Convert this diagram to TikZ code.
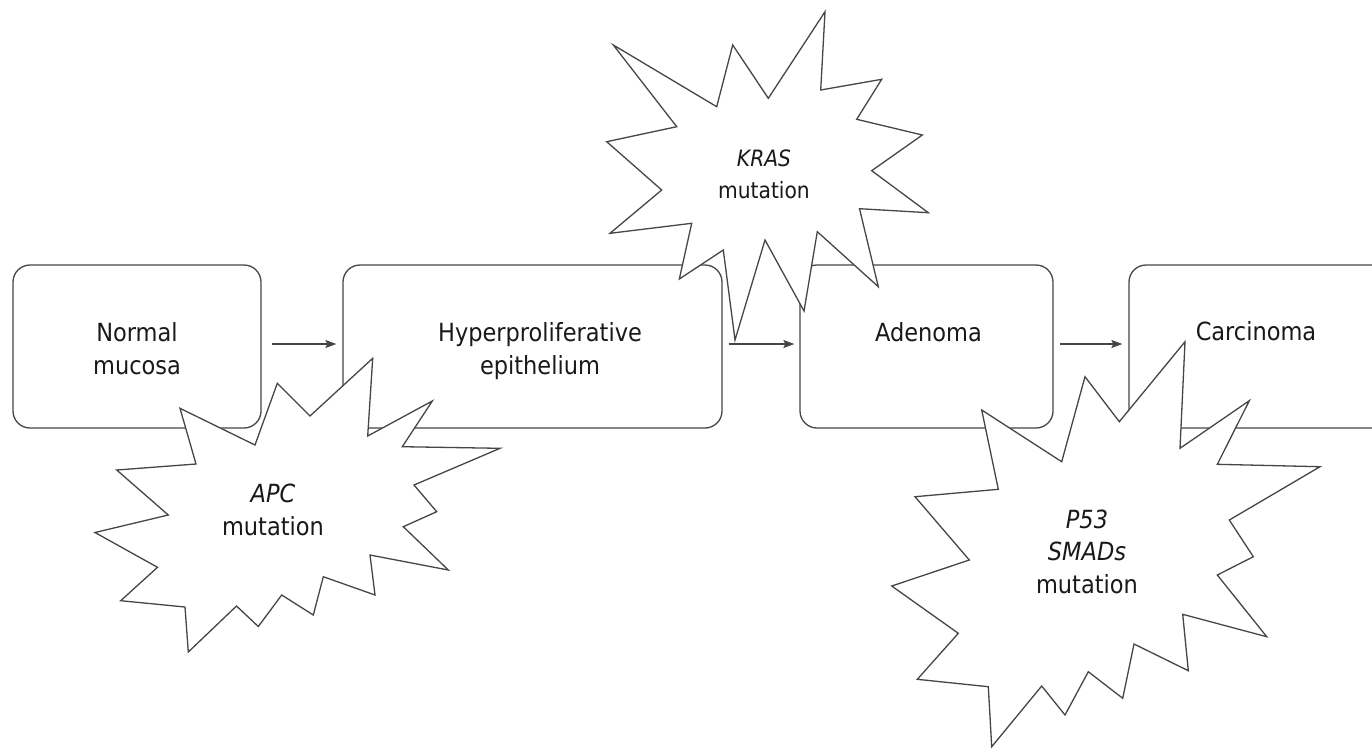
\documentclass[tikz,border=0pt]{standalone}
\usepackage{fontspec}
\setmainfont{DejaVu Sans Condensed}
\usetikzlibrary{arrows.meta}
\definecolor{linec}{RGB}{70,70,70}
\tikzset{
  stagebox/.style={draw=linec, line width=1.3pt, rounded corners=17pt, fill=white, inner sep=0pt},
  flow/.style={draw=linec, line width=1.2pt, -{Stealth[length=11pt,width=8pt,inset=2pt]}},
  burst/.style={draw=linec, line width=1.3pt, fill=white, line join=miter},
  lbl/.style={font=\fontsize{25}{33}\selectfont, align=center, anchor=base, inner sep=0pt, text=black!90},
  klbl/.style={font=\fontsize{22.5}{31.5}\selectfont, align=center, anchor=base, inner sep=0pt, text=black!90}
}
\begin{document}
\begin{tikzpicture}[x=1pt,y=-1pt]
\useasboundingbox (0,0) rectangle (1372,748);
\clip (0,0) rectangle (1372,748);
\fill[white] (0,0) rectangle (1372,748);
% stage boxes
\node[stagebox, minimum width=248pt, minimum height=163pt] (nm) at (137,346.5) {};
\node[stagebox, minimum width=379pt, minimum height=163pt] (hy) at (532.5,346.5) {};
\node[stagebox, minimum width=253pt, minimum height=163pt] (ad) at (926.5,346.5) {};
\node[stagebox, minimum width=291pt, minimum height=163pt] (ca) at (1274.5,346.5) {};
% labels (base anchor = baseline of last line)
\node[lbl] (tnm) at (137,374) {Normal\\mucosa};
\node[lbl] (thy) at (540,374) {Hyperproliferative\\epithelium};
\node[lbl] (tad) at (928.5,341) {Adenoma};
\node[lbl] (tca) at (1256,340) {Carcinoma};
% arrows
\draw[flow, shorten <=10pt, shorten >=6pt] ([yshift=2.5pt]nm.east) -- ([yshift=2.5pt]hy.west);
\draw[flow, shorten <=6pt, shorten >=5pt] ([yshift=2.5pt]hy.east) -- ([yshift=2.5pt]ad.west);
\draw[flow, shorten <=6pt, shorten >=6pt] ([yshift=2.5pt]ad.east) -- ([yshift=2.5pt]ca.west);
% APC burst
\draw[burst] (180,408.3) -- (255,445) -- (277.3,383.3) -- (310,416) -- (372.7,358.3) -- (367.7,436) -- (432.3,401) -- (402.3,446.7) -- (500,448.3) -- (414,485) -- (436.7,511.7) -- (403.3,526.7) -- (448.3,570) -- (370,555) -- (375,595) -- (323.3,576.7) -- (313.3,615) -- (281.7,595) -- (258.3,626.5) -- (236.5,606) -- (188.3,652) -- (185,607) -- (120.7,600.7) -- (157.5,567.3) -- (95,532.5) -- (168.3,515) -- (116.7,470) -- (196,464) -- cycle;
\node[lbl] (tapc) at (273,535) {\itshape APC\\mutation};
% KRAS burst
\draw[burst] (825,11.7) -- (820.7,90) -- (881.7,79.3) -- (856.7,119.3) -- (922.3,135) -- (871.7,170.7) -- (928.3,212.7) -- (859.5,208.7) -- (878.3,286.7) -- (817.3,231.7) -- (804,311) -- (765,240) -- (735,340) -- (723.3,250) -- (679.3,279) -- (691.7,223.3) -- (610,233.3) -- (661.7,190) -- (606.7,141.7) -- (676.7,126.7) -- (613.3,45) -- (716.7,106.7) -- (732.7,45) -- (768.3,98.3) -- cycle;
\node[klbl] (tkras) at (764,198.3) {\itshape KRAS\\mutation};
% P53 burst
\draw[burst] (981.7,410) -- (1061.7,461.7) -- (1085,376.7) -- (1119.3,421.7) -- (1185,341.7) -- (1180,448.3) -- (1249.3,400.7) -- (1217.3,464.3) -- (1320,466.7) -- (1229.3,520) -- (1253.3,556.7) -- (1217.3,575) -- (1266.7,636.7) -- (1182.7,614.3) -- (1188.3,670.7) -- (1134,644) -- (1122.7,698.3) -- (1088.3,671.7) -- (1065,715) -- (1041.7,686) -- (991.7,746.7) -- (988.3,686.7) -- (917.3,679.3) -- (958.3,633.3) -- (891.7,586) -- (969.3,560) -- (915,496.7) -- (998.3,489.3) -- cycle;
\node[lbl, font=\fontsize{25}{32.5}\selectfont] (tp53) at (1087,593.3) {\itshape P53\\\itshape SMADs\\mutation};
\end{tikzpicture}
\end{document}
